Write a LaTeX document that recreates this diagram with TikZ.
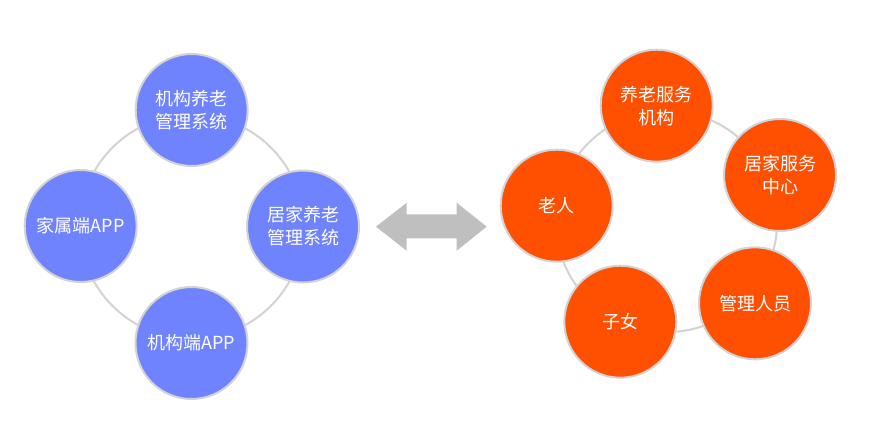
\documentclass[tikz,border=0pt]{standalone}
\usepackage{fontspec}
\setmainfont{Noto Sans CJK SC}
\usetikzlibrary{positioning}
\definecolor{sysblue}{HTML}{6F83FF}
\definecolor{roleorange}{HTML}{FF4F00}
\definecolor{ringgrey}{HTML}{D3D3D3}
\definecolor{arrowgrey}{HTML}{BFBFBF}

\begin{document}
\begin{tikzpicture}[x=0.75pt, y=-0.75pt,
  font=\fontsize{13.5}{17.25}\selectfont,
  bubble/.style={circle, draw=ringgrey, line width=1.5pt, minimum size=84pt,
    inner sep=0pt, text=white, align=center},
  ring/.style={draw=ringgrey, line width=1.5pt}]
  \useasboundingbox (0,0) rectangle (872,440);
  % left: the platforms
  \coordinate (sys) at (191.7,226.7);
  \draw[ring] (sys) circle[radius=84pt];
  \foreach \nm/\x/\y/\lab in {jgsys/191.7/110/{机构养老\\管理系统},
      jjsys/303/226.5/{居家养老\\管理系统}, jgapp/191.5/343/{机构端APP},
      jsapp/80.7/226/{家属端APP}}{%
    \node[bubble, fill=sysblue] (\nm) at (\x,\y) {\lab};}
  % middle: both ways
  \fill[arrowgrey] (376,226.7) -- (406.7,202.7) -- (406.7,214.3) -- (456.7,214.3)
    -- (456.7,202.7) -- (486.7,226.7) -- (456.7,250.7) -- (456.7,238.3)
    -- (406.7,238.3) -- (406.7,250.7) -- cycle;
  % right: the people
  \coordinate (who) at (666.5,221.5);
  \draw[ring] (who) circle[radius=83pt];
  \foreach \nm/\x/\y/\lab in {yljg/656.7/105.7/{养老服务\\机构},
      jjzx/780/175/{居家服务\\中心}, glry/755/303.3/{管理人员},
      zinv/620.3/321.7/{子女}, laoren/556.7/205.7/{老人}}{%
    \node[bubble, fill=roleorange] (\nm) at (\x,\y) {\lab};}
\end{tikzpicture}
\end{document}
